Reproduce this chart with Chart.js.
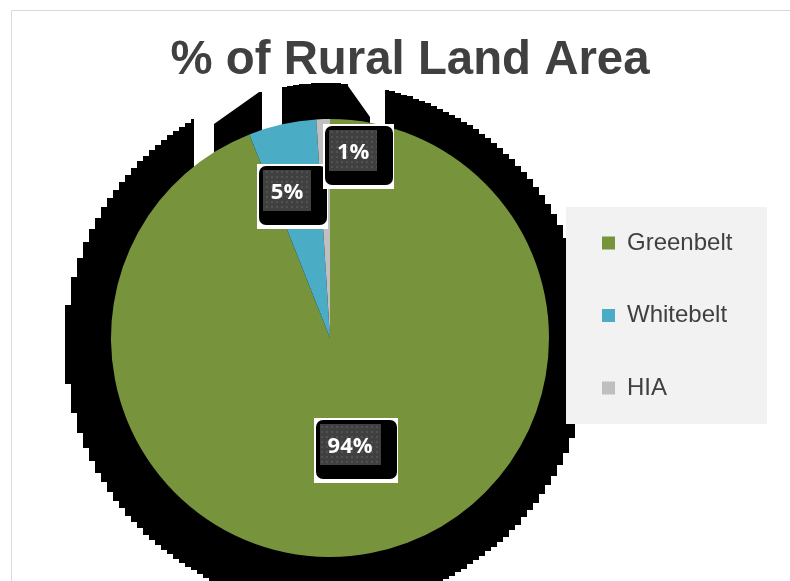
<!DOCTYPE html>
<html>
<head>
<meta charset="utf-8">
<script src="https://cdn.jsdelivr.net/npm/chart.js@4.4.1/dist/chart.umd.min.js"></script>
<style>
html,body{margin:0;padding:0;background:#fff;overflow:hidden}
#wrap{position:relative;width:790px;height:581px}
canvas{display:block}
</style>
</head>
<body>
<div id="wrap"><canvas id="c" width="790" height="581"></canvas></div>
<script>
// ---- data ----
const categories = ['Greenbelt', 'Whitebelt', 'HIA'];
const shareValues = [94, 5, 1];
const sliceColors = ['#77933C', '#4BACC6', '#BFBFBF'];
const titleText = '% of Rural Land Area';

// ---- layout constants ----
const W = 790, H = 581;
const LEG_FONT = 24, LEG_BOX = 13, LEG_PAD = 48.5;
const LEG_BOX_X = 602;                 // x of legend colour squares
const LEG_LEFT = LEG_BOX_X - LEG_PAD;  // left edge of legend layout box
const TITLE_CX = 410;                  // desired title centre
const PIE_CX = 330;                    // desired pie centre x
const PAD_LEFT = 2 * PIE_CX - LEG_LEFT;
const LEG_FONT_CSS = LEG_FONT + 'px "Liberation Sans", Arial, sans-serif';
const TITLE_SIZE = 48;
const TITLE_FONT = 'bold ' + TITLE_SIZE + 'px "Liberation Sans", Arial, sans-serif';
const TITLE_WIDTH = 479;

const mctx = document.createElement('canvas').getContext('2d');
mctx.font = TITLE_FONT;
const TITLE_SX = TITLE_WIDTH / mctx.measureText(titleText).width;
mctx.font = LEG_FONT_CSS;
const maxTextW = Math.max(...categories.map(c => mctx.measureText(c).width));
const legendWidth = LEG_PAD + LEG_BOX + LEG_FONT / 2 + maxTextW + 10;
const PAD_RIGHT = Math.max(0, W - LEG_LEFT - legendWidth);

// label placement: fraction of radius along the slice mid-angle, plus nudge
const labelPlacement = [
  { f: 0.49, nx: 0, ny: 3 },
  { f: 0.69, nx: -10, ny: 2 },
  { f: 0.86, nx: 29, ny: 3 }
];

function makePattern(ctx) {
  const t = document.createElement('canvas');
  t.width = 5; t.height = 5;
  const g = t.getContext('2d');
  g.fillStyle = '#404040'; g.fillRect(0, 0, 5, 5);
  g.fillStyle = '#525252'; g.fillRect(1, 1, 2, 2);
  return ctx.createPattern(t, 'repeat');
}

const decor = {
  id: 'decor',
  beforeDraw(chart) {
    // fit the title to the reference width and centre
    const tb = chart.titleBlock;
    if (tb && !tb._fitted) {
      const orig = tb.draw.bind(tb);
      tb.draw = function () {
        const c = this.ctx, mid = (this.left + this.right) / 2;
        c.save(); c.translate(TITLE_CX, 0); c.scale(TITLE_SX, 1); c.translate(-mid, 0);
        orig(); c.restore();
      };
      tb._fitted = true;
    }
    const ctx = chart.ctx;
    const a = chart.getDatasetMeta(0).data[0];
    const cx = a.x, cy = a.y, r = a.outerRadius, k = r / 219;
    ctx.save();
    ctx.fillStyle = '#fff';
    ctx.fillRect(0, 0, chart.width, chart.height);
    ctx.strokeStyle = '#d9d9d9'; ctx.lineWidth = 1;
    ctx.beginPath();
    ctx.moveTo(11.5, chart.height); ctx.lineTo(11.5, 10.5); ctx.lineTo(chart.width, 10.5);
    ctx.stroke();
    // stepped black shadow
    const sx = cx - 3 * k, sy = cy + 7 * k, R = 262 * k, step = 6;
    ctx.fillStyle = '#000';
    for (let x = sx - R; x < sx + R; x += step) {
      const d = x + step / 2 - sx;
      if (Math.abs(d) >= R) continue;
      const h = Math.sqrt(R * R - d * d);
      ctx.fillRect(Math.round(x), Math.round(sy - h), step, Math.round(2 * h));
    }
    // white gaps in the shadow
    ctx.fillStyle = '#fff';
    const poly = pts => { ctx.beginPath(); pts.forEach((p, i) => i ? ctx.lineTo(cx + p[0] * k, cy + p[1] * k) : ctx.moveTo(cx + p[0] * k, cy + p[1] * k)); ctx.closePath(); ctx.fill(); };
    poly([[-136, -300], [-116, -300], [-116, -140], [-136, -140]]);
    poly([[-116, -245], [-68, -265], [-68, -248], [-116, -214]]);
    poly([[-68, -300], [-48, -300], [-48, -180], [-68, -180]]);
    poly([[18, -300], [55, -300], [55, -180], [40, -180], [40, -221], [18, -252]]);
    // legend background
    const hb = chart.legend.legendHitBoxes;
    if (hb && hb.length) {
      const first = hb[0], last = hb[hb.length - 1];
      const top = first.top + first.height / 2 - 36;
      const bottom = last.top + last.height / 2 + 36;
      ctx.fillStyle = '#f2f2f2';
      ctx.fillRect(Math.round(first.left - 36), Math.round(top), 201, Math.round(bottom - top));
    }
    ctx.restore();
  }
};

const valueLabels = {
  id: 'valueLabels',
  afterDatasetsDraw(chart) {
    const ctx = chart.ctx;
    const meta = chart.getDatasetMeta(0);
    const pat = makePattern(ctx);
    ctx.save();
    ctx.font = 'bold 22px "Open Sans", "Noto Sans", sans-serif';
    ctx.textAlign = 'center';
    ctx.textBaseline = 'middle';
    meta.data.forEach((arc, i) => {
      const pl = labelPlacement[i];
      const mid = (arc.startAngle + arc.endAngle) / 2;
      const tx = arc.x + Math.cos(mid) * arc.outerRadius * pl.f + pl.nx;
      const ty = arc.y + Math.sin(mid) * arc.outerRadius * pl.f + pl.ny;
      const txt = shareValues[i] + '%';
      const tw = ctx.measureText(txt).width;
      const dw = Math.round(tw + 16), dh = 41;
      const dl = Math.round(tx - dw / 2), dt = Math.round(ty - dh / 2 - 2);
      ctx.fillStyle = '#fff';
      ctx.fillRect(dl - 6, dt - 6, dw + 23, dh + 24);
      ctx.fillStyle = '#000';
      ctx.beginPath();
      ctx.roundRect(dl - 4, dt - 4, dw + 20, dh + 18, 7);
      ctx.fill();
      ctx.fillStyle = pat;
      ctx.fillRect(dl, dt, dw, dh);
      ctx.fillStyle = '#ffffff';
      ctx.fillText(txt, tx, ty);
    });
    ctx.restore();
  }
};

new Chart(document.getElementById('c'), {
  type: 'pie',
  data: {
    labels: categories,
    datasets: [{
      data: shareValues,
      backgroundColor: sliceColors,
      borderWidth: 0,
      radius: 219
    }]
  },
  options: {
    responsive: false,
    animation: false,
    events: [],
    layout: { padding: { left: PAD_LEFT, right: PAD_RIGHT, top: 0, bottom: 0 } },
    plugins: {
      tooltip: { enabled: false },
      title: {
        display: true,
        text: titleText,
        color: '#404040',
        font: { family: '"Liberation Sans", Arial, sans-serif', size: TITLE_SIZE, weight: 'bold', lineHeight: 1.2 },
        padding: { top: 31.6, bottom: 5.8 }
      },
      legend: {
        position: 'right',
        align: 'start',
        title: { display: true, text: '', font: { size: 1, lineHeight: 1.2 }, padding: { top: 181.3, bottom: 0 } },
        labels: {
          boxWidth: LEG_BOX,
          boxHeight: LEG_BOX,
          padding: LEG_PAD,
          color: '#404040',
          font: { family: '"Liberation Sans", Arial, sans-serif', size: LEG_FONT }
        }
      }
    }
  },
  plugins: [decor, valueLabels]
});
</script>
</body>
</html>
